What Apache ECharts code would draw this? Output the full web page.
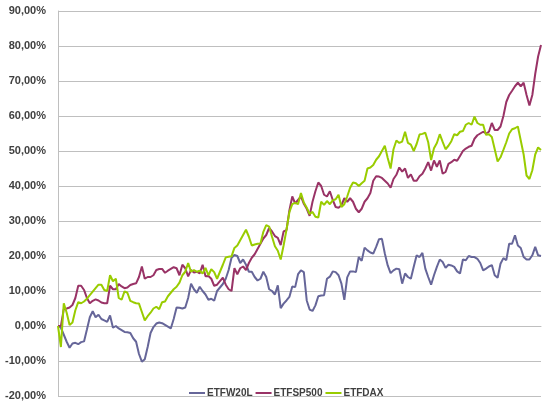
<!DOCTYPE html>
<html>
<head>
<meta charset="utf-8">
<script src="https://cdn.jsdelivr.net/npm/echarts@6/dist/echarts.min.js"></script>
<style>
  html, body { margin: 0; padding: 0; background: #fff; }
  #chart { width: 550px; height: 408px; }
</style>
</head>
<body>
<div id="chart"></div>
<script>
// Wertentwicklung der drei ETFs in Prozent (wöchentliche Werte)
const ETFW20L = [
  0, -0.5, -2.5, -4.5, -6.2, -5, -4.8, -5.2, -4.6, -4.4,
  -1, 2.5, 4.2, 2.5, 3.2, 2, 1.6, 1.2, 3, -0.5,
  0, -0.7, -1.2, -1.7, -1.8, -2, -3.5, -4.5, -8, -10.2,
  -9.5, -6, -2, -0.3, 0.7, 1, 0.8, 0.3, -0.2, -0.7,
  2, 5.3, 5.2, 5, 5.3, 8, 12.1, 10.5, 9.5, 11.2,
  10, 9, 7.5, 7.8, 7.2, 10, 11, 12, 13.5, 16,
  19.5, 20.3, 20, 18, 19, 17.5, 15.5, 15.5, 14, 13,
  13.5, 15.5, 14, 10.5,
  10, 9, 11.6, 5.1, 6.4, 7.3, 8.3, 11.3, 11.1, 14.8,
  15.9, 15.4, 7.3, 4.7, 4.3, 5.9, 8.5, 8.7, 8.8, 13.5,
  14.1, 15.6, 15.4, 14.5, 12.1, 7.5, 13.9, 15.6, 15.6, 15.4,
  19.7, 18.6, 22.4, 21.6, 21, 20.7, 22.6, 24.8, 24.9, 20.7,
  17.3, 15.1, 15.9, 16.4, 16.2, 12.1, 15, 14, 13.5, 16.9,
  20.2, 19.7, 20.9, 16.4, 14, 11.8, 14.5, 16.9, 19, 18.3,
  16.6, 17.5, 17.3, 16.9, 15.6, 15, 19, 18.8, 20, 19.7,
  19.7, 19.2, 18, 15.9, 16.4, 17, 17.4, 14.5, 13.8, 17.8,
  19.4, 18.8, 23.5, 23.5, 25.9, 23, 22.3, 19.7, 19, 19,
  20.2, 22.6, 20.2, 20
]
const ETFSP500 = [
  0, 0, 4.8, 5, 5.3, 6, 8, 11.5, 11.5, 10.3,
  8, 6.5, 7.2, 7.6, 7.3, 6.7, 6.5, 6.5, 11.5, 10.5,
  10.5, 12, 11.3, 10.8, 11, 11.7, 12, 12.2, 14, 17,
  13.5, 14, 14, 14.5, 16, 16.3, 16.3, 15.2, 15.8, 16.3,
  16.8, 16.5, 14.5, 17.5, 16.5, 14.2, 16, 15.3, 15.5, 15,
  17.5, 14.2, 14.3, 13.5, 11.5, 11.8, 12.8, 13.8, 11.8, 10.5,
  10, 16.5, 14.8, 16.5, 17, 16, 18, 19.5, 20.5, 22,
  23.5, 25, 26, 28,
  27, 25.7, 25.2, 23.1, 27, 27.4, 33, 37, 35, 36,
  37, 34.9, 33.5, 31.5, 35.5, 38.5, 41, 40, 37.5, 37,
  38.5, 36, 34, 33.8, 34.5, 36.5, 35.5, 36.5, 35.5, 33.5,
  32.5, 33.5, 35.5, 36.5, 38, 41.5, 42.8, 42.7, 42.3, 41.5,
  40.7, 39.5, 42, 43.2, 45.3, 44.1, 45, 42.3, 43.3, 41.5,
  41.5, 42.8, 43.5, 45, 46.8, 44.4, 47.3, 45.5, 47.3, 43.5,
  44, 46.3, 46.8, 47.5, 47.2, 48.6, 50, 50.7, 51.2, 51.5,
  53.5, 54.5, 55, 55.5, 55, 55.5, 58, 56, 56, 57,
  60, 64, 66, 67.2, 68.5, 69.5, 68.5, 69.5, 66, 63,
  66, 72, 77, 80.3
]
const ETFDAX = [
  0, -6, 6.5, 3.8, 0.3, 1, 4.5, 6.8, 6.5, 7,
  7.8, 8.8, 9.8, 10.8, 11.8, 11.8, 10.3, 10, 14.5, 12.8,
  13.5, 8, 7.5, 9.9, 9.5, 7.2, 6.8, 6.5, 6.4, 4,
  1.6, 2.8, 3.8, 5, 5.5, 4.8, 6.8, 7, 8.5, 9.5,
  10.5, 11.2, 12.4, 14.5, 15.5, 18, 15.5, 16, 15.5, 15.8,
  15, 16.6, 14.5, 16.2, 15.4, 13.5, 15.5, 17.5, 19.6, 19.8,
  19.9, 22.3, 23, 24.5, 26, 27.5, 25.5, 23, 23.3, 23.5,
  23.6, 26.9, 28.8, 28.4,
  25.5, 22.8, 21.5, 19, 23, 27.5, 32.5, 34.8, 35.2, 34.8,
  38, 35.3, 33.8, 32, 32.6, 31.2, 31, 35.5, 34.6, 35.7,
  34.8, 35.9, 36.2, 37.5, 34, 34.8, 37, 39.5, 41, 40.8,
  40, 40.8, 41.5, 45, 45.3, 46, 47.5, 48.5, 50, 51.5,
  48, 45, 50.5, 53, 52.3, 52.7, 55.5, 52.3, 51.8, 50,
  52, 54.7, 54.9, 55.2, 52.5, 47.4, 50.8, 52.3, 54.8, 52.6,
  50.5, 51.5, 52.8, 54.8, 54.5, 55.5, 55.7, 57.5, 58, 57.5,
  59.8, 58, 57.5, 57.5, 54.6, 54.8, 54, 50.5, 47, 48.2,
  50.3, 52.5, 55, 56.2, 56.5, 57, 53, 49, 43, 42,
  44.5, 49, 51, 50.3
]
const seriesNames = ['ETFW20L', 'ETFSP500', 'ETFDAX']
const seriesData = [ETFW20L, ETFSP500, ETFDAX]
const seriesColors = ['#666699', '#993366', '#99CC00']
// Achse: -20 % bis 90 %, alle 10 %
const yMin = -20
const yMax = 90
const yStep = 10
// Wochen (ohne Beschriftung im Original)
const weeks = ETFW20L.map((v, i) => i + 1)

const gridColor = '#BFBFBF'
const textColor = '#404040'

const myChart = echarts.init(document.getElementById('chart'))
const option = {
  animation: false,
  grid: {
    left: 58,
    right: 9,
    top: 11,
    bottom: 12
  },
  legend: {
    data: seriesNames,
    top: 383,
    left: 184,
    icon: 'rect',
    itemWidth: 16,
    itemHeight: 2,
    itemGap: 3,
    textStyle: {
      color: textColor,
      fontFamily: 'Liberation Sans',
      fontWeight: 'bold',
      fontSize: 10,
      padding: [0, 0, 0, -3]
    }
  },
  xAxis: {
    type: 'category',
    data: weeks,
    boundaryGap: false,
    axisLine: { show: true, lineStyle: { color: gridColor } },
    axisTick: { show: false },
    axisLabel: { show: false },
    splitLine: { show: false }
  },
  yAxis: {
    type: 'value',
    min: yMin,
    max: yMax,
    interval: yStep,
    axisLine: { show: true, lineStyle: { color: gridColor } },
    axisTick: { show: false },
    axisLabel: {
      margin: 12,
      color: textColor,
      fontFamily: 'Liberation Sans',
      fontWeight: 'bold',
      fontSize: 11,
      formatter: v => v.toFixed(2).replace('.', ',') + '%'
    },
    splitLine: { lineStyle: { color: gridColor, width: 1 } }
  },
  series: seriesNames.map((name, k) => ({
    name: name,
    type: 'line',
    data: seriesData[k],
    showSymbol: false,
    smooth: false,
    lineStyle: { width: 2, color: seriesColors[k] },
    itemStyle: { color: seriesColors[k] }
  }))
}
myChart.setOption(option)
</script>
</body>
</html>
